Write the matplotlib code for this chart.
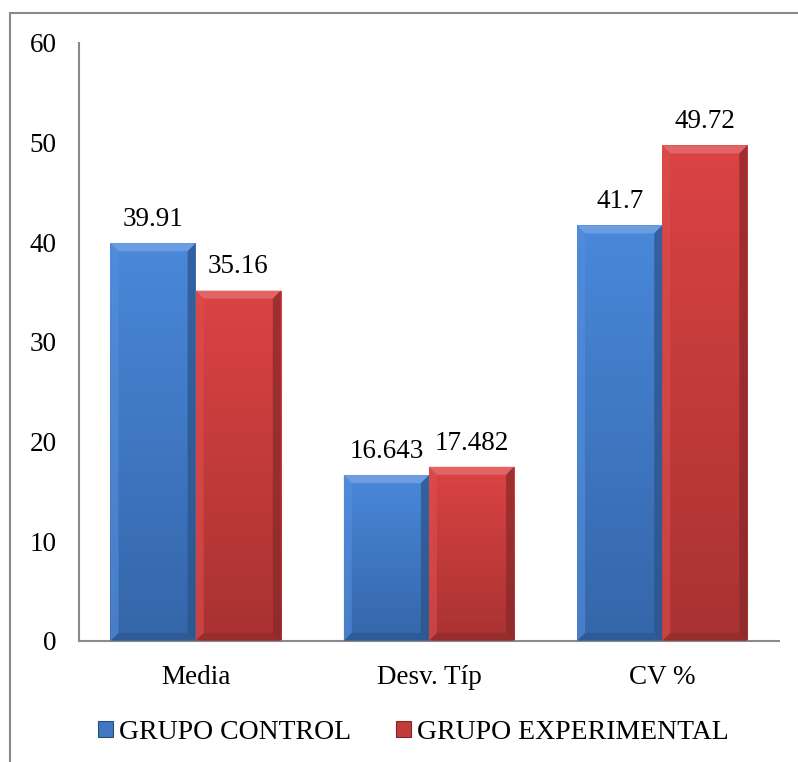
import numpy as np
import matplotlib
matplotlib.use("Agg")
import matplotlib.pyplot as plt
from matplotlib.colors import to_rgb
from matplotlib.patches import Polygon
from matplotlib.lines import Line2D

categories = ["Media", "Desv. Típ", "CV %"]
series_names = ["GRUPO CONTROL", "GRUPO EXPERIMENTAL"]
control = [39.91, 16.643, 41.7]
experimental = [35.16, 17.482, 49.72]
control_labels = ["39.91", "16.643", "41.7"]
experimental_labels = ["35.16", "17.482", "49.72"]
y_ticks = [0, 10, 20, 30, 40, 50, 60]

# (top colour, bottom colour) of the vertical shading for each series
palette = {
    "GRUPO CONTROL": ("#4A88DA", "#3466A9"),
    "GRUPO EXPERIMENTAL": ("#DB4343", "#A93232"),
}

plt.rcParams["font.family"] = ["Liberation Serif", "DejaVu Serif"]
FS = 19.5
LEG_FS = 20

fig = plt.figure(figsize=(7.98, 7.62), dpi=100)
ax = fig.add_axes([0.099, 0.1588, 0.877, 0.7848])
ax.set_xlim(-0.5, 2.5)
ax.set_ylim(0, 60)

x = np.arange(len(categories))
w = 0.365


def mix(c, other, t):
    c = np.array(to_rgb(c)); o = np.array(to_rgb(other))
    return tuple(c * (1 - t) + o * t)


def bevel_bar(patch, top_c, bot_c, bevel_px=8):
    x0, y0 = patch.get_x(), patch.get_y()
    bw, bh = patch.get_width(), patch.get_height()
    x1, y1 = x0 + bw, y0 + bh
    # vertical shading clipped to the bar
    grad = np.linspace(0, 1, 256)[:, None]
    t = np.array(to_rgb(top_c)); b = np.array(to_rgb(bot_c))
    img = t[None, None, :] * (1 - grad[..., None]) + b[None, None, :] * grad[..., None]
    im = ax.imshow(img, extent=(x0, x1, y0, y1), origin="upper",
                   aspect="auto", zorder=2, interpolation="bilinear")
    im.set_clip_path(patch)
    # bevel size converted from pixels to data units
    pw = ax.bbox.width / (ax.get_xlim()[1] - ax.get_xlim()[0])
    ph = ax.bbox.height / (ax.get_ylim()[1] - ax.get_ylim()[0])
    dx = bevel_px / pw
    dy = min(bevel_px / ph, bh / 2)
    shapes = [
        ([(x0, y1), (x1, y1), (x1 - dx, y1 - dy), (x0 + dx, y1 - dy)], mix(top_c, "white", 0.22), 0.85),
        ([(x0, y0), (x0, y1), (x0 + dx, y1 - dy), (x0 + dx, y0 + dy)], mix(top_c, "white", 0.06), 0.6),
        ([(x1, y0), (x1, y1), (x1 - dx, y1 - dy), (x1 - dx, y0 + dy)], mix(bot_c, "black", 0.2), 0.7),
        ([(x0, y0), (x1, y0), (x1 - dx, y0 + dy), (x0 + dx, y0 + dy)], mix(bot_c, "black", 0.15), 0.7),
    ]
    for pts, col, a in shapes:
        ax.add_patch(Polygon(pts, closed=True, facecolor=col, edgecolor="none",
                             alpha=a, zorder=3))


groups = [(control, control_labels, -w / 2, series_names[0]),
          (experimental, experimental_labels, w / 2, series_names[1])]
fig.canvas.draw()
for vals, labels, off, name in groups:
    top_c, bot_c = palette[name]
    bars = ax.bar(x + off, vals, width=w, color=mix(top_c, bot_c, 0.5),
                  edgecolor="none", zorder=1, label=name)
    for p, lab in zip(bars, labels):
        bevel_bar(p, top_c, bot_c)
        ax.annotate(lab, (p.get_x() + p.get_width() / 2, p.get_height()),
                    xytext=(0, 8), textcoords="offset points",
                    ha="center", va="bottom", fontsize=FS, color="black")

ax.set_xticks(x)
ax.set_xticklabels(categories, fontsize=FS)
ax.set_yticks(y_ticks)
ax.set_yticklabels([str(v) for v in y_ticks], fontsize=FS)
ax.tick_params(axis="both", length=0)
ax.tick_params(axis="y", pad=16)
ax.tick_params(axis="x", pad=17)
for s in ["top", "right"]:
    ax.spines[s].set_visible(False)
for s in ["left", "bottom"]:
    ax.spines[s].set_color("#8A8A8A")
    ax.spines[s].set_linewidth(1.5)
ax.spines["left"].set_zorder(5)

# legend with shaded square keys
handles = [plt.Rectangle((0, 0), 1, 1, facecolor=mix(*palette[n], 0.5),
                         edgecolor=mix(palette[n][1], "black", 0.25), linewidth=0.8)
           for n in series_names]
fig.legend(handles, series_names, loc="center", bbox_to_anchor=(0.518, 0.039),
           ncol=2, frameon=False, fontsize=LEG_FS, handlelength=0.54, handleheight=0.54,
           handletextpad=0.2, columnspacing=1.65)

# outer chart frame (top and left edges)
fig.add_artist(Line2D([0.0125, 1.0], [1 - 13 / 762, 1 - 13 / 762],
                      transform=fig.transFigure, color="#8A8A8A", lw=1.5))
fig.add_artist(Line2D([0.0125, 0.0125], [0.0, 1 - 13 / 762],
                      transform=fig.transFigure, color="#8A8A8A", lw=1.5))

fig.savefig("out.png", dpi=100, facecolor="white")
